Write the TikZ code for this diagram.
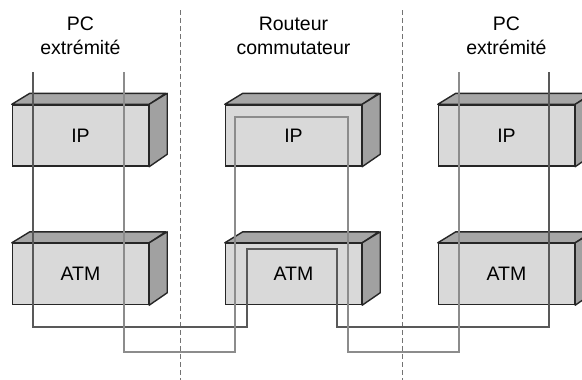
\documentclass[tikz,border=0pt]{standalone}
\usepackage{fontspec}
\setmainfont{Liberation Sans}
\usetikzlibrary{calc}

\begin{document}
\begin{tikzpicture}[x=1pt,y=-1pt,
    layer/.style={draw=black!85,line width=1.4pt,fill=black!15,minimum width=136pt,minimum height=61pt,inner sep=0pt,font=\fontsize{19.5}{23}\selectfont},
    wireA/.style={draw=black!65,line width=1.6pt},
    wireB/.style={draw=black!45,line width=1.6pt},
    border/.style={draw=black!55,line width=0.9pt,dash pattern=on 5pt off 3pt},
    title/.style={align=center,font=\fontsize{19.5}{23.5}\selectfont}]
            \useasboundingbox (0,0) rectangle (582,380);
    
            % separations
            \draw[border] (180,10) -- (180,380);
            \draw[border] (402,10) -- (402,380);
    
            \node[title] (tL) at (80.5,36) {PC\\extrémité};
            \node[title] (tM) at (293.5,36) {Routeur\\commutateur};
            \node[title] (tR) at (506.5,36) {PC\\extrémité};
    
            % boxes
            \foreach \nm/\x/\y/\txt in {ipL/80.5/135.5/IP, atmL/80.5/274/ATM,
                                        ipM/293.5/135.5/IP, atmM/293.5/274/ATM,
                                        ipR/506.5/135.5/IP, atmR/506.5/274/ATM} {
                \node[layer] (\nm) at (\x,\y) {\txt};
                \draw[draw=black!85,line width=1.4pt,fill=black!35,line join=round]
                    (\nm.north west) -- ++(18,-11) -- ++(136,0) -- (\nm.north east) -- cycle;
                \draw[draw=black!85,line width=1.4pt,fill=black!37,line join=round]
                    (\nm.north east) -- ++(18,-11) -- ++(0,61) -- (\nm.south east) -- cycle;
            }
    
            \coordinate (pcLa) at (33,72);
            \coordinate (pcLb) at (124,72);
            \coordinate (pcRa) at (549,72);
            \coordinate (pcRb) at (459,72);
            \coordinate (rtA) at (247,249);
            \coordinate (rtB) at (235,117);
            
            \draw[wireA] (pcLa) -- ++(0,255) -| (rtA) -| ++(90,78) -| (pcRa);
            \draw[wireB] (pcLb) -- ++(0,280) -| (rtB) -| ++(113,235) -| (pcRb);
        \end{tikzpicture}
\end{document}
